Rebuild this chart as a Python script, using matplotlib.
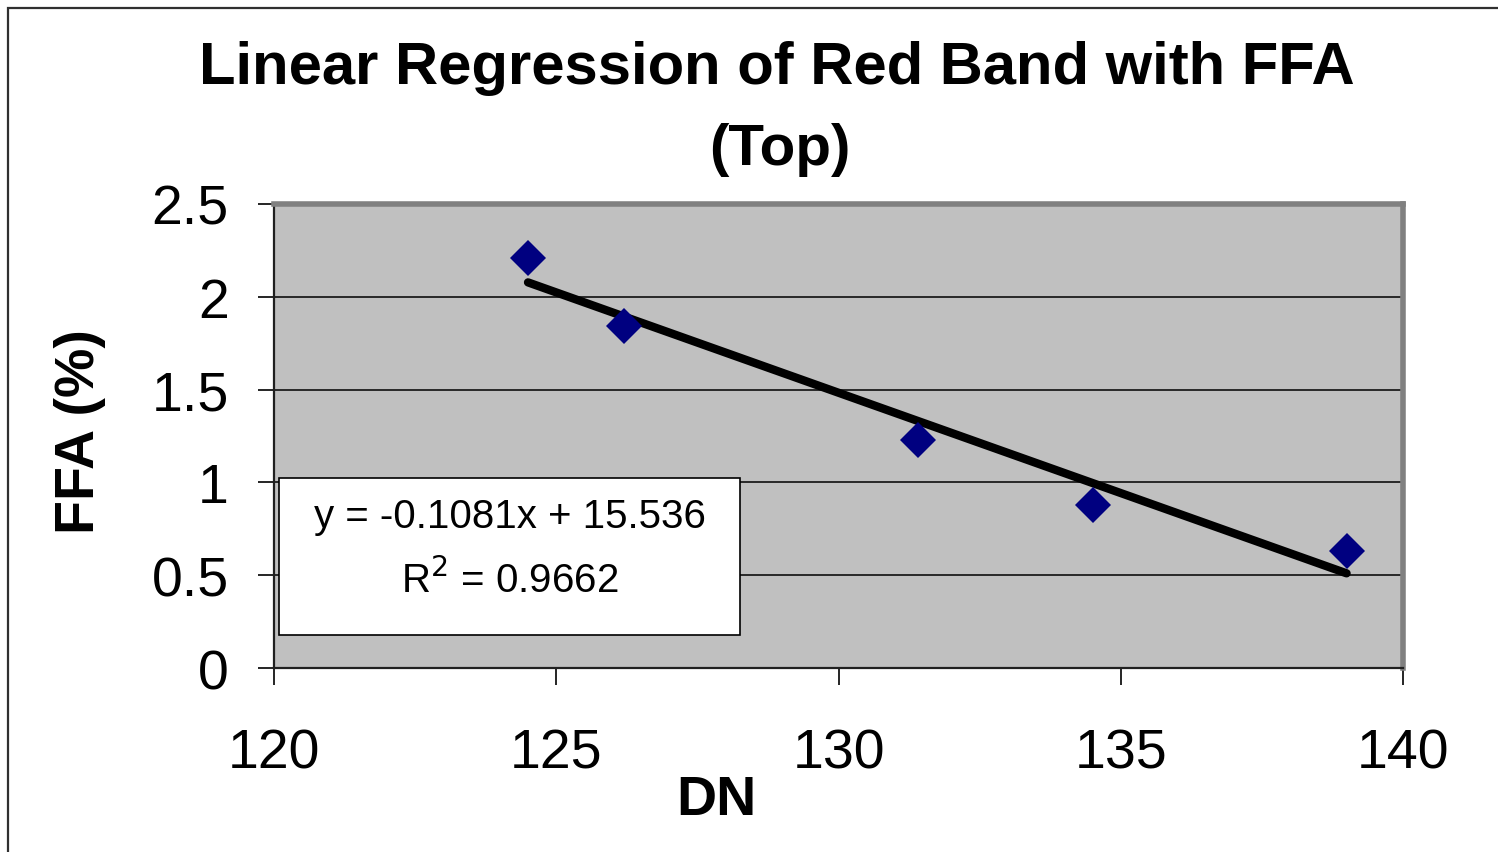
import matplotlib
matplotlib.use("Agg")
import matplotlib.pyplot as plt
from matplotlib.patches import Rectangle
import numpy as np

plt.rcParams['font.family'] = ['Liberation Sans', 'DejaVu Sans']

# Observed points (DN vs FFA %)
dn = [124.5, 126.2, 131.4, 134.5, 139.0]
ffa = [2.21, 1.84, 1.23, 0.88, 0.63]

# Fitted trendline from the chart label
slope = -0.1081
intercept = 15.536
r_squared = 0.9662

x_ticks = [120, 125, 130, 135, 140]
y_ticks = [0, 0.5, 1, 1.5, 2, 2.5]
y_tick_labels = ["0", "0.5", "1", "1.5", "2", "2.5"]

fig = plt.figure(figsize=(14.98, 8.53), dpi=100)
fig.patch.set_facecolor("white")
ax = fig.add_axes([0.1829, 0.2157, 0.9366 - 0.1829, 0.7597 - 0.2157])
ax.set_facecolor("#C0C0C0")

# horizontal gridlines
for yv in y_ticks[1:-1]:
    ax.axhline(yv, color="black", lw=1.1, zorder=1)

# trendline across the data range
xfit = np.array([min(dn), max(dn)])
ax.plot(xfit, slope * xfit + intercept, color="black", lw=6,
        solid_capstyle="round", zorder=3)

ax.plot(dn, ffa, linestyle="none", marker="D", ms=18, mew=0,
        color="#000080", zorder=4)

ax.set_xlim(120, 140)
ax.set_ylim(0, 2.5)
ax.set_xticks(x_ticks)
ax.set_xticklabels([str(v) for v in x_ticks])
ax.set_yticks(y_ticks)
ax.set_yticklabels(y_tick_labels)
ax.tick_params(axis="x", direction="out", length=12, width=1.2,
               pad=31, labelsize=40)
ax.tick_params(axis="y", direction="out", length=11.5, width=1.2,
               pad=21, labelsize=40)

for s in ["top", "right"]:
    ax.spines[s].set_color("#808080")
    ax.spines[s].set_linewidth(4)
for s in ["left", "bottom"]:
    ax.spines[s].set_color("#202020")
    ax.spines[s].set_linewidth(1.6)

# equation box
box = Rectangle((0.1862, 0.2544), 0.3077, 0.1841, transform=fig.transFigure,
                facecolor="white", edgecolor="black", lw=1.2, zorder=5)
ax.add_patch(box)
fig.text(0.3405, 0.3939, f"y = {slope}x + {intercept}", ha="center",
         va="center", fontsize=29, zorder=6)
fig.text(0.3405, 0.3200, f"R$^{{2}}$ = {r_squared}", ha="center",
         va="center", fontsize=29, zorder=6)

# titles and axis labels
fig.text(0.5187, 0.9015, "Linear Regression of Red Band with FFA",
         ha="center", va="baseline", fontsize=43, fontweight="bold")
fig.text(0.5207, 0.8066, "(Top)", ha="center", va="baseline",
         fontsize=42, fontweight="bold")
fig.text(0.478, 0.0445, "DN", ha="center", va="baseline",
         fontsize=40, fontweight="bold")
fig.text(0.0534, 0.4936, "FFA (%)", ha="center", va="center",
         rotation=90, fontsize=40, fontweight="bold")

# outer chart frame (top and left edges visible)
frame = Rectangle((8 / 1498, -0.1), 1.2, 1.1 - 9.5 / 853,
                  transform=fig.transFigure, fill=False,
                  edgecolor="#303030", lw=1.6)
fig.add_artist(frame)

fig.savefig("out.png", dpi=100)
